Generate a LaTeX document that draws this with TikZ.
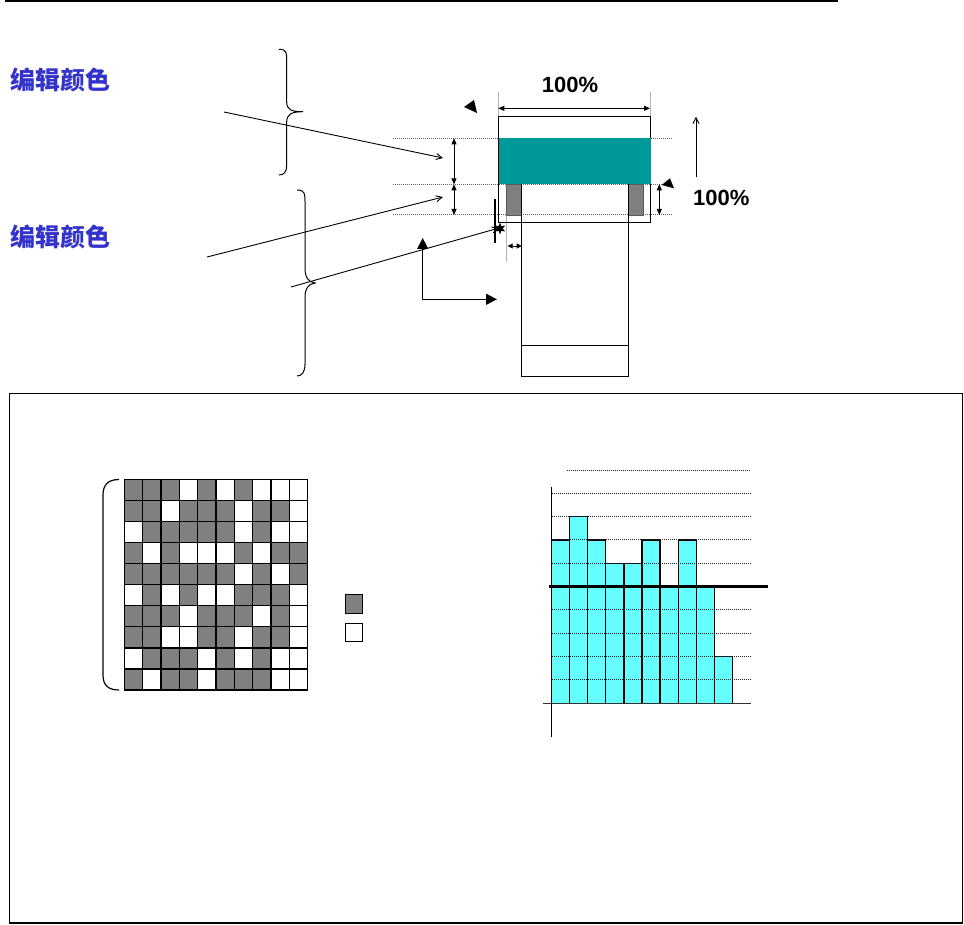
\documentclass[tikz,border=0pt]{standalone}
\usepackage{fontspec}
\setmainfont{Liberation Sans}
\newfontfamily\cjk{Noto Sans CJK SC}
\usetikzlibrary{arrows.meta,shapes.geometric}
\definecolor{teal1}{HTML}{009999}
\definecolor{cyanbar}{HTML}{66FFFF}
\definecolor{cellgray}{HTML}{808080}
\definecolor{cjkblue}{HTML}{3333CC}
\tikzset{
  dotline/.style={draw=black!85,line width=1pt,dash pattern=on 1pt off 1pt},
  extline/.style={draw=gray!60,line width=0.6pt},
  dimarrow/.style={line width=0.8pt,{Triangle[length=6pt,width=5pt]}-{Triangle[length=6pt,width=5pt]}},
  pointer/.style={line width=0.9pt,-{Straight Barb[length=6pt,width=6pt]}},
  bigtri/.style={line width=1pt,{Triangle[length=11pt,width=11pt]}-{Triangle[length=11pt,width=11pt]}},
  cellg/.style={fill=cellgray,draw=black,line width=1.3pt},
  cellw/.style={fill=white,draw=black,line width=1.3pt},
  bar/.style={fill=cyanbar,draw=black,line width=1.2pt},
  pct/.style={font=\fontsize{22}{24}\selectfont\bfseries,inner sep=0pt},
  cjktxt/.style={font=\cjk\bfseries\fontsize{25}{27}\selectfont,text=cjkblue,inner sep=0pt,anchor=west},
  brace/.style={line width=1pt}
}
\begin{document}
\begin{tikzpicture}[x=1pt,y=-1pt]
\useasboundingbox (0,0) rectangle (964,925);
% top rule
\draw[line width=2pt] (5,1.5) -- (838,1.5);
% frame
\draw[line width=1.5pt] (9.5,393.5) rectangle (962.5,923);

% CJK labels
\node[cjktxt] (lab1) at (10,80) {编辑颜色};
\node[cjktxt] (lab2) at (10,236.5) {编辑颜色};

% braces
\draw[brace] (279,49.3) .. controls (286.7,49.3) and (286.7,53) .. (286.7,60)
  -- (286.7,102) .. controls (286.7,110) and (292,111.7) .. (303,111.7)
  .. controls (292,111.7) and (286.7,114) .. (286.7,122)
  -- (286.7,165) .. controls (286.7,172) and (284,175) .. (279,175);
\draw[brace] (297,190) .. controls (305,190) and (305,194) .. (305,202)
  -- (305,268) .. controls (305,277) and (308,282) .. (315,283)
  .. controls (308,284) and (305,289) .. (305,297)
  -- (305,364) .. controls (305,372) and (302,376) .. (297,376);

% dotted guides
\draw[dotline,draw=black!60] (393,138.3) -- (673,138.3);
\draw[dotline,draw=black!60] (393,184.3) -- (673,184.3);
\draw[dotline,draw=black!60] (393,215) -- (673,215);

% extension lines
\draw[extline] (498.3,92) -- (498.3,116);
\draw[extline] (650,92) -- (650,116);
\draw[extline] (506,215) -- (506,262);

% outer rectangle and parts
\draw[line width=0.8pt] (498.3,116) rectangle (650,222.7);
\fill[teal1] (499,138.3) rectangle (650.7,184.3);
\draw[fill=cellgray,draw=gray!70!black,line width=0.6pt] (506,184.3) rectangle (521.7,215);
\draw[fill=cellgray,draw=gray!70!black,line width=0.6pt] (628.3,184.3) rectangle (643.3,215);
% column
\draw[line width=0.8pt] (521.7,184.3) -- (521.7,376) -- (628.3,376) -- (628.3,184.3);
\draw[line width=0.8pt] (521.7,345) -- (628.3,345);

% dimension arrows
\coordinate (dwl) at (498.3,108.3); \coordinate (dwr) at (650,108.3);
\draw[dimarrow] (dwl) -- (dwr);
\node[pct] (p1) at (570,85) {100\%};
\coordinate (v1a) at (454,138.3); \coordinate (v1b) at (454,184.3); \coordinate (v1c) at (454,215);
\draw[dimarrow] (v1a) -- (v1b);
\draw[dimarrow] (v1b) -- (v1c);
\coordinate (v2a) at (659.3,184.3); \coordinate (v2b) at (659.3,215);
\draw[dimarrow] (v2a) -- (v2b);
\coordinate (h1a) at (507.7,246); \coordinate (h1b) at (521.7,246);
\draw[line width=0.8pt,{Triangle[length=5pt,width=5pt]}-{Triangle[length=5pt,width=5pt]}] (h1a) -- (h1b);

% lone arrowheads
\fill (464,107) -- (474,100) -- (477,113) -- cycle;
\fill (661.7,185) -- (670,178.3) -- (674,188.3) -- cycle;

% up arrow and right label
\coordinate (ua) at (696,176.7); \coordinate (ub) at (696,116.7);
\draw[pointer] (ua) -- (ub);
\node[pct,anchor=west] (p2) at (693,198) {100\%};

% pointers
\coordinate (s1) at (224,112); \coordinate (t1) at (443,158);
\coordinate (s2) at (207,257); \coordinate (t2) at (443,197);
\coordinate (s3) at (291,287); \coordinate (t3) at (499,228);
\draw[pointer] (s1) -- (t1);
\draw[pointer] (s2) -- (t2);
\draw[pointer] (s3) -- (t3);
\draw[line width=1.2pt] (495,199) -- (495,243);
\node[star,star points=6,star point ratio=2.2,fill=black,inner sep=0pt,minimum size=12pt] (st) at (500,228.5) {};

% elbow connector
\coordinate (ea) at (422.7,238); \coordinate (eb) at (497,299.3);
\draw[bigtri] (ea) |- (eb);

% grid
\def\gx{124.3}\def\gy{479.3}\def\gw{18.34}\def\gh{21.07}
\foreach \row [count=\r from 0] in {
 {1,1,1,0,1,0,1,0,0,0},
 {1,1,0,1,1,1,0,1,1,0},
 {0,1,1,1,1,1,0,1,0,0},
 {1,0,1,0,0,0,1,0,1,1},
 {1,1,1,1,1,1,0,1,0,1},
 {0,1,0,1,0,0,1,1,1,0},
 {1,1,1,0,1,1,1,0,1,0},
 {1,1,0,0,1,1,0,1,1,0},
 {0,1,1,1,0,1,0,1,0,0},
 {1,0,1,1,0,1,1,1,0,0}}{
  \foreach \v [count=\c from 0] in \row {
    \ifnum\v=1
      \draw[cellg] ({\gx+\c*\gw},{\gy+\r*\gh}) rectangle ++(\gw,\gh);
    \else
      \draw[cellw] ({\gx+\c*\gw},{\gy+\r*\gh}) rectangle ++(\gw,\gh);
    \fi
  }
}
% grid bracket
\draw[line width=1.2pt] (119,479.5) .. controls (108,479.5) and (103,485) .. (103,495)
  -- (103,675) .. controls (103,685) and (108,690) .. (119,690);

% legend
\draw[cellg,line width=1pt] (345.5,594.5) rectangle (362.5,613);
\draw[cellw,line width=1pt] (345.5,623) rectangle (362.5,641.5);

% bar chart
\def\bx{551.7}\def\bw{18.06}\def\by{703.3}\def\bs{23.333}
\foreach \h [count=\i from 0] in {7,8,7,6,6,7,5,7,5,2}{
  \draw[bar] ({\bx+\i*\bw},\by) rectangle ++(\bw,{-\h*\bs});
}
\foreach \k in {1,2,3,4,6,7,8,9}{
  \draw[dotline] (552,{\by-\k*\bs}) -- (751,{\by-\k*\bs});
}
\draw[dotline] (567,470) -- (751,470);
\coordinate (ax1) at (551.7,487); \coordinate (ax2) at (551.7,737);
\draw[line width=1.4pt] (ax1) -- (ax2);
\coordinate (bx1) at (543,703.3); \coordinate (bx2) at (751,703.3);
\draw[line width=1pt,draw=black!80] (bx1) -- (bx2);
\coordinate (th1) at (549,586.7); \coordinate (th2) at (768,586.7);
\draw[line width=3pt] (th1) -- (th2);
\end{tikzpicture}
\end{document}
